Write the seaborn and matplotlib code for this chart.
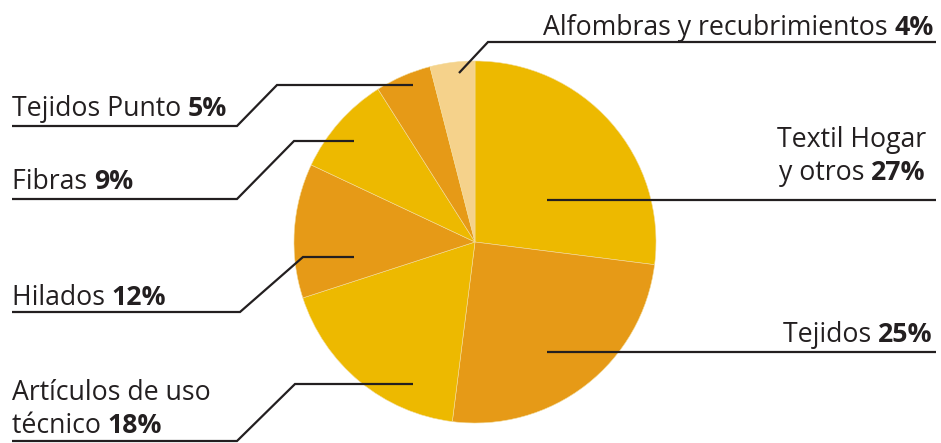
"""
Distribución del sector textil por subsector (gráfico de tarta con etiquetas guía).
"""

import matplotlib
matplotlib.use('Agg')
import matplotlib.pyplot as plt
import seaborn as sns

# --- datos ---
sectores = ['Textil Hogar y otros', 'Tejidos', 'Artículos de uso técnico',
            'Hilados', 'Fibras', 'Tejidos Punto', 'Alfombras y recubrimientos']
porcentajes = [27, 25, 18, 12, 9, 5, 4]
colores = ['#EDB900', '#E69A17', '#EDB900', '#E69A17', '#EDB900', '#E69A17', '#F5D28B']

# texto normal + parte en negrita, por líneas
etiquetas = {
    'Textil Hogar y otros': [('Textil Hogar', ''), ('y otros ', '27%')],
    'Tejidos': [('Tejidos ', '25%')],
    'Artículos de uso técnico': [('Artículos de uso', ''), ('técnico ', '18%')],
    'Hilados': [('Hilados ', '12%')],
    'Fibras': [('Fibras ', '9%')],
    'Tejidos Punto': [('Tejidos Punto ', '5%')],
    'Alfombras y recubrimientos': [('Alfombras y recubrimientos ', '4%')],
}

W, H = 941, 443
TXT = '#231F20'

sns.set_theme(style='white')
plt.rcParams['font.family'] = ['Open Sans', 'DejaVu Sans']

fig = plt.figure(figsize=(W / 100, H / 100), dpi=100)
ax = fig.add_axes([0, 0, 1, 1])


def py(y):
    # coordenadas de píxel (origen arriba) -> datos
    return H - y


ax.pie(
    porcentajes,
    colors=colores,
    startangle=90,
    counterclock=False,
    center=(475, py(242)),
    radius=181,
    frame=True,
    wedgeprops={'edgecolor': '#F3DC9A', 'linewidth': 0.4},
)
ax.set_xlim(0, W)
ax.set_ylim(0, H)
ax.set_aspect('equal')
ax.axis('off')

# líneas guía (x, y en píxeles)
guias = {
    'Textil Hogar y otros': [(547, 200), (936, 200)],
    'Tejidos': [(547, 352), (936, 352)],
    'Artículos de uso técnico': [(413, 384), (295, 384), (237, 441), (12, 441)],
    'Hilados': [(354, 257), (303, 257), (240, 312), (12, 312)],
    'Fibras': [(354, 141), (294, 141), (237, 199), (12, 199)],
    'Tejidos Punto': [(413, 85), (277, 85), (237, 126), (12, 126)],
    'Alfombras y recubrimientos': [(459, 73), (488, 42), (936, 42)],
}
for pts in guias.values():
    ax.plot([p[0] for p in pts], [py(p[1]) for p in pts], color=TXT,
            lw=1.6, solid_capstyle='butt', solid_joinstyle='miter')

# posición de cada bloque de texto: (x, [baselines], alineación)
pos_txt = {
    'Textil Hogar y otros': (926, [147, 180], 'right'),
    'Tejidos': (933, [342], 'right'),
    'Artículos de uso técnico': (12, [400, 433], 'left'),
    'Hilados': (12, [305], 'left'),
    'Fibras': (12, [189], 'left'),
    'Tejidos Punto': (12, [116], 'left'),
    'Alfombras y recubrimientos': (934, [35], 'right'),
}

FS = 19.2
fig.canvas.draw()
renderer = fig.canvas.get_renderer()
for nombre, lineas in etiquetas.items():
    x0, bases, ha = pos_txt[nombre]
    for (normal, negrita), yb in zip(lineas, bases):
        if ha == 'left':
            t = ax.text(x0, py(yb), normal, fontsize=FS, color=TXT,
                        ha='left', va='baseline')
            if negrita:
                bb = t.get_window_extent(renderer)
                ax.text(bb.x1, py(yb), negrita, fontsize=FS, color=TXT,
                        fontweight='bold', ha='left', va='baseline')
        else:
            xr = x0
            if negrita:
                tb = ax.text(xr, py(yb), negrita, fontsize=FS, color=TXT,
                             fontweight='bold', ha='right', va='baseline')
                xr = tb.get_window_extent(renderer).x0
            ax.text(xr, py(yb), normal, fontsize=FS, color=TXT,
                    ha='right', va='baseline')

fig.savefig('out.png', dpi=100)
